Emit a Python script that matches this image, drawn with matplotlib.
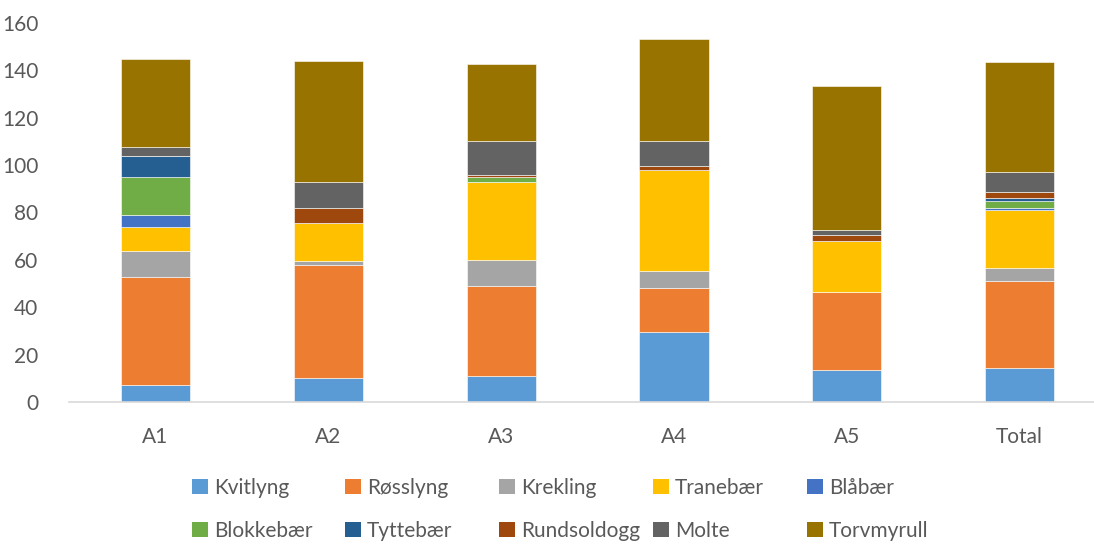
import numpy as np
import matplotlib
matplotlib.use('Agg')
import matplotlib.pyplot as plt
from matplotlib.patches import Patch

plt.rcParams['font.family'] = ['Lato', 'DejaVu Sans']

omrader = ['A1', 'A2', 'A3', 'A4', 'A5', 'Total']

arter = ['Kvitlyng', 'Røsslyng', 'Krekling', 'Tranebær', 'Blåbær',
         'Blokkebær', 'Tyttebær', 'Rundsoldogg', 'Molte', 'Torvmyrull']

kvitlyng    = [7.0, 10.1, 11.0, 29.4, 13.5, 14.3]
rosslyng    = [45.9, 47.6, 37.9, 18.6, 32.9, 36.9]
krekling    = [11.0, 1.7, 11.0, 7.2, 0.0, 5.5]
tranebaer   = [9.9, 16.0, 32.9, 42.9, 21.4, 24.3]
blabaer     = [5.0, 0.0, 0.0, 0.0, 0.0, 0.9]
blokkebaer  = [16.1, 0.0, 2.3, 0.0, 0.0, 2.9]
tyttebaer   = [9.0, 0.0, 0.0, 0.0, 0.0, 1.2]
rundsoldogg = [0.0, 6.7, 0.8, 1.7, 2.5, 2.8]
molte       = [3.8, 10.9, 14.1, 10.5, 2.4, 8.4]
torvmyrull  = [37.0, 50.9, 32.9, 43.1, 60.8, 46.2]

serier = [kvitlyng, rosslyng, krekling, tranebaer, blabaer,
          blokkebaer, tyttebaer, rundsoldogg, molte, torvmyrull]

farger = ['#5B9BD5', '#ED7D31', '#A5A5A5', '#FFC000', '#4472C4',
          '#70AD47', '#255E91', '#9E480E', '#636363', '#997300']

tekstfarge = '#595959'

fig = plt.figure(figsize=(10.94, 5.44), dpi=100)
ax = fig.add_axes([69 / 1094, 1 - 402 / 544, 1 - 69 / 1094, (402 - 23) / 544])

x = np.arange(len(omrader))
bunn = np.zeros(len(omrader))
for navn, verdier, farge in zip(arter, serier, farger):
    ax.bar(x, verdier, width=0.4, bottom=bunn, color=farge,
           edgecolor='white', linewidth=0.4, label=navn)
    bunn += np.array(verdier)

ax.set_ylim(0, 160)
ax.set_xlim(-0.5, 5.43)
ax.set_yticks(range(0, 161, 20))
ax.set_xticks(x)
ax.set_xticklabels(omrader)

for side in ['top', 'right', 'left']:
    ax.spines[side].set_visible(False)
ax.spines['bottom'].set_color('#D9D9D9')
ax.spines['bottom'].set_linewidth(1.2)
ax.tick_params(axis='both', length=0, labelsize=15, colors=tekstfarge)
ax.tick_params(axis='y', pad=22)
ax.tick_params(axis='x', pad=18)

# forklaring: fem like brede kolonner, to rader
kol_x = [192, 345, 499, 653, 807]
rad_y = [488, 531]
for i, (navn, farge) in enumerate(zip(arter, farger)):
    px = kol_x[i % 5] / 1094
    py = 1 - rad_y[i // 5] / 544
    fig.legend(handles=[Patch(facecolor=farge, label=navn)],
               loc='center left', bbox_to_anchor=(px, py),
               frameon=False, fontsize=15, labelcolor=tekstfarge,
               handlelength=0.75, handleheight=0.75, handletextpad=0.3,
               borderpad=0, borderaxespad=0)

fig.savefig('out.png', dpi=100)
